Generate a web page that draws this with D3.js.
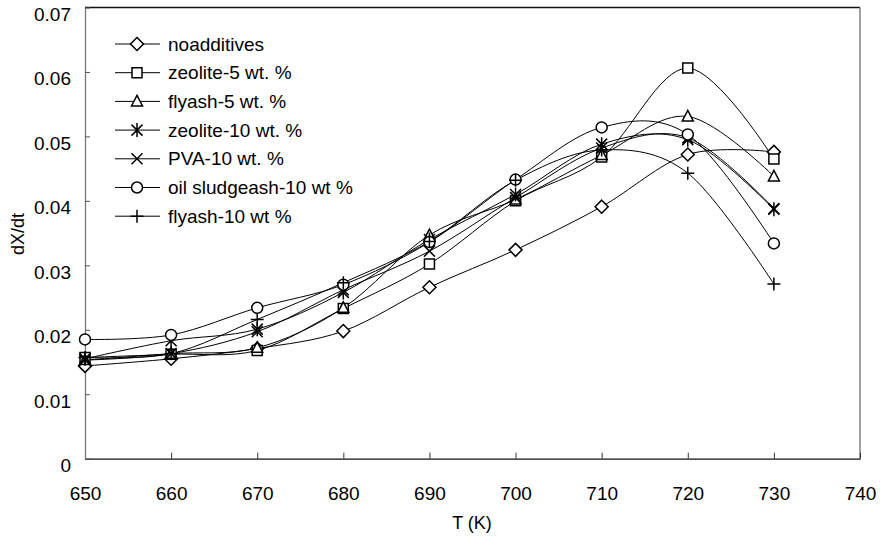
<!DOCTYPE html>
<html>
<head>
<meta charset="utf-8">
<script src="https://cdn.jsdelivr.net/npm/d3@7"></script>
<style>
  body { margin: 0; background: #fff; }
  svg { font-family: "Liberation Sans", Arial, sans-serif; }
</style>
</head>
<body>
<div id="chart"></div>
<script>
var temps = [650, 660, 670, 680, 690, 700, 710, 720, 730];
var xTicks = [650, 660, 670, 680, 690, 700, 710, 720, 730, 740];
var yTicks = [0, 0.01, 0.02, 0.03, 0.04, 0.05, 0.06, 0.07];

var seriesNames = ["noadditives", "zeolite-5 wt. %", "flyash-5 wt. %", "zeolite-10 wt. %",
    "PVA-10 wt. %", "oil sludgeash-10 wt %", "flyash-10 wt %"];
var seriesMarkers = ["diamond", "square", "triangle", "star", "times", "circle", "plus"];

var noAdditives = [0.0144, 0.0155, 0.0171, 0.0198, 0.0266, 0.0324, 0.0391, 0.0472, 0.0476];
var zeolite5 = [0.0157, 0.0162, 0.0168, 0.0233, 0.0302, 0.0400, 0.0468, 0.0606, 0.0465];
var flyash5 = [0.0153, 0.0163, 0.0172, 0.0234, 0.0347, 0.0402, 0.0471, 0.0531, 0.0438];
var zeolite10 = [0.0155, 0.0183, 0.0201, 0.0258, 0.0340, 0.0410, 0.0488, 0.0495, 0.0387];
var pva10 = [0.0153, 0.0163, 0.0197, 0.0262, 0.0322, 0.0405, 0.0482, 0.0498, 0.0388];
var oilSludge10 = [0.0185, 0.0192, 0.0234, 0.0270, 0.0336, 0.0433, 0.0514, 0.0503, 0.0334];
var flyash10 = [0.0157, 0.0163, 0.0216, 0.0273, 0.0337, 0.0432, 0.0479, 0.0443, 0.0271];

var seriesValues = [noAdditives, zeolite5, flyash5, zeolite10, pva10, oilSludge10, flyash10];

var width = 883, height = 539;
var plotLeft = 85, plotRight = 860, plotTop = 7.5, plotBottom = 458.7;

var svg = d3.select("#chart").append("svg")
    .attr("width", width)
    .attr("height", height);

var xscale = d3.scaleLinear().domain([650, 740]).range([plotLeft, plotRight]);
var yscale = d3.scaleLinear().domain([0, 0.07]).range([plotBottom, plotTop]);

// marker shapes, drawn around 0,0
function markerPath(type) {
    var p = d3.path();
    if (type == "diamond") {
        p.moveTo(0, -6.5); p.lineTo(6.5, 0); p.lineTo(0, 6.5); p.lineTo(-6.5, 0); p.closePath();
    } else if (type == "square") {
        p.rect(-5, -5, 10, 10);
    } else if (type == "triangle") {
        p.moveTo(0, -6); p.lineTo(5.5, 4.5); p.lineTo(-5.5, 4.5); p.closePath();
    } else if (type == "circle") {
        p.arc(0, 0, 5.5, 0, 2 * Math.PI);
    } else if (type == "times") {
        p.moveTo(-5.5, -5.5); p.lineTo(5.5, 5.5); p.moveTo(5.5, -5.5); p.lineTo(-5.5, 5.5);
    } else if (type == "plus") {
        p.moveTo(-6.5, 0); p.lineTo(6.5, 0); p.moveTo(0, -6.5); p.lineTo(0, 6.5);
    } else if (type == "star") {
        p.moveTo(-5.5, -5.5); p.lineTo(5.5, 5.5); p.moveTo(5.5, -5.5); p.lineTo(-5.5, 5.5);
        p.moveTo(0, -7); p.lineTo(0, 7);
    }
    return p.toString();
}

function isFilled(type) {
    return type == "diamond" || type == "square" || type == "triangle" || type == "circle";
}

// frame
svg.append("line").attr("x1", plotLeft).attr("x2", plotRight).attr("y1", plotTop).attr("y2", plotTop)
    .attr("stroke", "#111").attr("stroke-width", 1.3);
svg.append("line").attr("x1", plotRight).attr("x2", plotRight).attr("y1", plotTop).attr("y2", plotBottom)
    .attr("stroke", "#888").attr("stroke-width", 1.6);

// axes
var xaxis = d3.axisBottom(xscale).tickValues(xTicks).tickSizeInner(-6).tickSizeOuter(0).tickPadding(28)
    .tickFormat(d3.format("d"));
var yaxis = d3.axisLeft(yscale).tickValues(yTicks).tickSizeInner(-5).tickSizeOuter(0).tickPadding(14)
    .tickFormat(d => d == 0 ? "0" : d3.format(".2f")(d));

var gx = svg.append("g")
    .attr("transform", "translate(0," + plotBottom + ")")
    .call(xaxis);
gx.select(".domain").attr("stroke", "#111").attr("stroke-width", 1.3);
gx.selectAll(".tick line").attr("stroke", "#333");
gx.selectAll("text").attr("font-size", 19).attr("fill", "#000")
    .attr("font-family", "Liberation Sans, Arial, sans-serif");

var gy = svg.append("g")
    .attr("transform", "translate(" + plotLeft + ",0)")
    .call(yaxis);
gy.select(".domain").attr("stroke", "#777").attr("stroke-width", 1.3);
gy.selectAll(".tick line").attr("stroke", "#555");
gy.selectAll("text").attr("font-size", 19).attr("fill", "#000").attr("dy", "0.68em")
    .attr("font-family", "Liberation Sans, Arial, sans-serif");

// axis titles
svg.append("text")
    .attr("transform", "translate(24," + 234 + ") rotate(-90)")
    .attr("text-anchor", "middle")
    .attr("font-size", 18)
    .text("dX/dt");

svg.append("text")
    .attr("x", 472)
    .attr("y", 529)
    .attr("text-anchor", "middle")
    .attr("font-size", 18)
    .text("T (K)");

// lines
var line = d3.line()
    .x((d, i) => xscale(temps[i]))
    .y(d => yscale(d))
    .curve(d3.curveCardinal.tension(0));

svg.append("g")
    .selectAll("path")
    .data(seriesValues)
    .enter()
    .append("path")
    .attr("d", line)
    .attr("fill", "none")
    .attr("stroke", "#000")
    .attr("stroke-width", 1);

// markers
seriesValues.forEach(function(vals, s) {
    var type = seriesMarkers[s];
    svg.append("g")
        .selectAll("path")
        .data(vals)
        .enter()
        .append("path")
        .attr("transform", (d, i) => "translate(" + xscale(temps[i]) + "," + yscale(d) + ")")
        .attr("d", markerPath(type))
        .attr("fill", isFilled(type) ? "#fff" : "none")
        .attr("stroke", "#000")
        .attr("stroke-width", 1.5);
});

// legend
var legendY = d3.scaleLinear().domain([0, 1]).range([44, 72.7]);

var legend = svg.append("g")
    .selectAll("g")
    .data(seriesNames)
    .enter()
    .append("g")
    .attr("transform", (d, i) => "translate(0," + legendY(i) + ")");

legend.append("line")
    .attr("x1", 115).attr("x2", 160)
    .attr("stroke", "#000").attr("stroke-width", 1);

legend.append("path")
    .attr("transform", "translate(137,0)")
    .attr("d", (d, i) => markerPath(seriesMarkers[i]))
    .attr("fill", (d, i) => isFilled(seriesMarkers[i]) ? "#fff" : "none")
    .attr("stroke", "#000")
    .attr("stroke-width", 1.5);

legend.append("text")
    .attr("x", 168)
    .attr("dy", "0.35em")
    .attr("font-size", 19)
    .text(d => d);
</script>
</body>
</html>
